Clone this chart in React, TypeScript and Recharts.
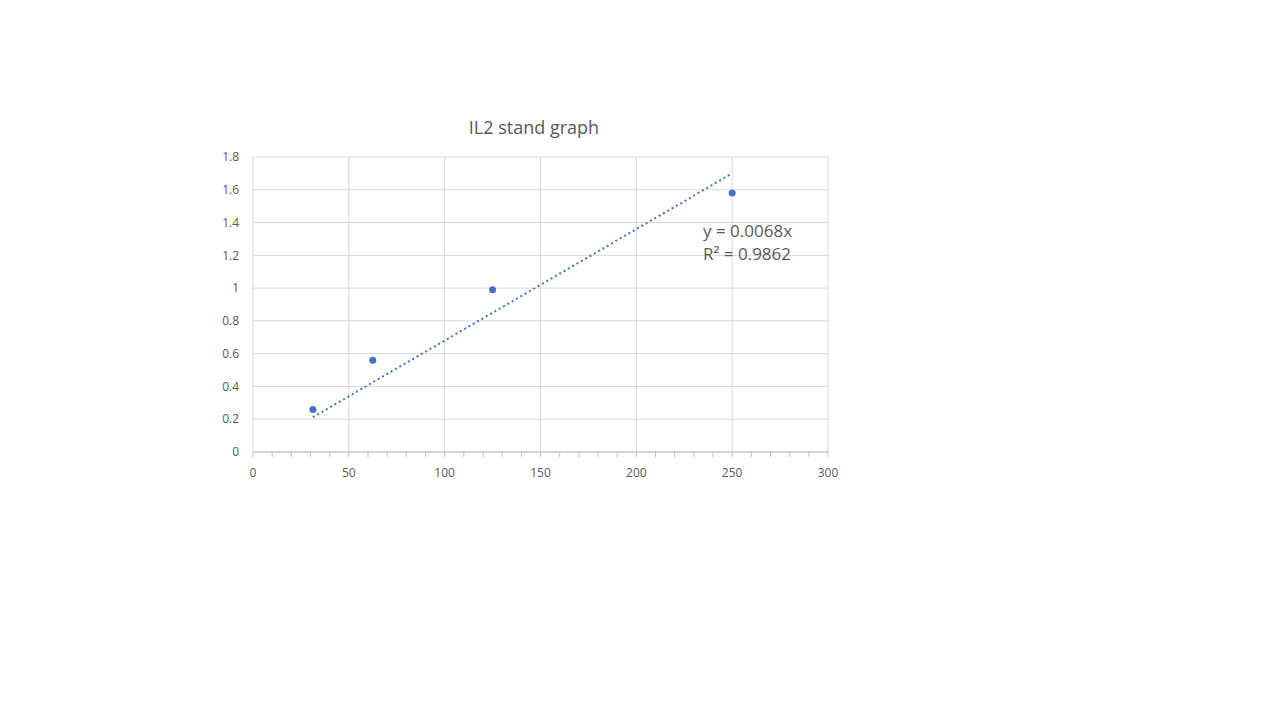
import React from "react";
import { ScatterChart, Scatter, XAxis, YAxis, CartesianGrid } from "recharts";

const concentrations = [31.25, 62.5, 125, 250];
const absorbance = [0.26, 0.56, 0.99, 1.58];
const trendX = [31.25, 250];
const trendY = [0.2125, 1.7];
const xTicks = [0, 50, 100, 150, 200, 250, 300];
const xMinorTicks = [0, 10, 20, 30, 40, 50, 60, 70, 80, 90, 100, 110, 120, 130, 140, 150, 160, 170, 180, 190, 200, 210, 220, 230, 240, 250, 260, 270, 280, 290, 300];
const yTicks = [0, 0.2, 0.4, 0.6, 0.8, 1, 1.2, 1.4, 1.6, 1.8];

const points = concentrations.map((x, i) => ({ x, y: absorbance[i] }));
const trend = trendX.map((x, i) => ({ x, y: trendY[i] }));

const font = "'Open Sans', 'Liberation Sans', sans-serif";
const tickStyle = { fontSize: 12, fill: "#595959", fontFamily: font };

const XTick = (props: any) => {
  const { x, y, payload } = props;
  if (!xTicks.includes(payload.value)) return <g />;
  return (
    <text x={x} y={y + 18} textAnchor="middle" style={tickStyle} fill="#595959">
      {payload.value}
    </text>
  );
};

export default function App() {
  return (
    <div style={{ position: "absolute", left: 0, top: 0, width: 1280, height: 720, background: "#fff" }}>
      <div style={{ position: "absolute", left: 0, width: 1068, top: 115, textAlign: "center", fontFamily: font, fontSize: 18, color: "#595959" }}>
        IL2 stand graph
      </div>
      <ScatterChart width={1280} height={720} margin={{ top: 157, left: 213, right: 452, bottom: 238 }}>
        <CartesianGrid stroke="#d9d9d9" horizontalValues={yTicks} verticalValues={xTicks} />
        <XAxis
          type="number"
          dataKey="x"
          domain={[0, 300]}
          ticks={xMinorTicks}
          tick={<XTick />}
          axisLine={{ stroke: "#bfbfbf" }}
          tickLine={{ stroke: "#bfbfbf" }}
          tickSize={5}
          height={30}
          interval={0}
        />
        <YAxis
          type="number"
          dataKey="y"
          domain={[0, 1.8]}
          ticks={yTicks}
          tick={tickStyle}
          axisLine={false}
          tickLine={false}
          width={40}
          tickMargin={8}
          interval={0}
        />
        <Scatter
          data={trend}
          fill="none"
          line={{ stroke: "#4472C4", strokeWidth: 2, strokeDasharray: "2 3" }}
          shape={() => null}
          isAnimationActive={false}
        />
        <Scatter
          data={points}
          fill="#4472C4"
          shape={(p: any) => <circle cx={p.cx} cy={p.cy} r={3.5} fill="#4472C4" />}
          isAnimationActive={false}
        />
      </ScatterChart>
      <div style={{ position: "absolute", left: 703, top: 219, fontFamily: font, fontSize: 17, color: "#595959", lineHeight: "23px" }}>
        y = 0.0068x
        <br />
        R² = 0.9862
      </div>
    </div>
  );
}
